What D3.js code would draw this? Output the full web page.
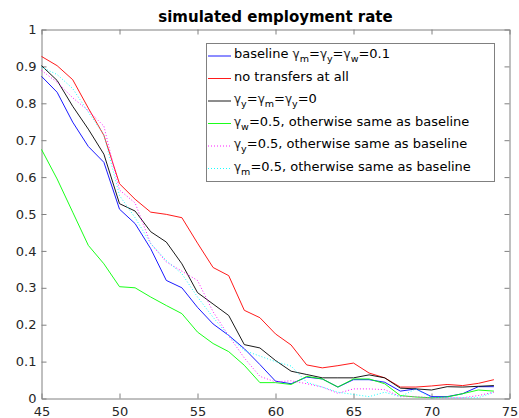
<!DOCTYPE html>
<html><head><meta charset="utf-8">
<script src="https://cdn.jsdelivr.net/npm/d3@7"></script>
<style>body{margin:0;background:#fff;}svg{display:block;font-family:"DejaVu Sans",sans-serif;}</style>
</head><body>
<svg id="chart" width="519" height="418"></svg>
<script>
const ages = d3.range(45, 75);
const baseline = [0.873,0.83,0.749,0.683,0.64,0.513,0.474,0.406,0.32,0.3,0.247,0.202,0.171,0.135,0.092,0.047,0.04,0.058,0.053,0.031,0.051,0.051,0.044,0.02,0.026,0.005,0.005,0.013,0.032,0.032];
const noTransfers = [0.927,0.902,0.864,0.787,0.713,0.582,0.54,0.505,0.499,0.49,0.421,0.355,0.333,0.239,0.219,0.175,0.145,0.091,0.083,0.089,0.096,0.069,0.056,0.031,0.031,0.034,0.038,0.035,0.041,0.051];
const zeroGamma = [0.902,0.862,0.792,0.73,0.662,0.528,0.508,0.452,0.424,0.365,0.287,0.256,0.225,0.146,0.137,0.103,0.074,0.065,0.056,0.056,0.056,0.064,0.056,0.028,0.026,0.023,0.032,0.031,0.033,0.035];
const gammaW = [0.675,0.595,0.505,0.415,0.365,0.303,0.3,0.275,0.252,0.23,0.18,0.149,0.127,0.09,0.043,0.043,0.038,0.06,0.053,0.031,0.053,0.053,0.04,0.008,0.004,0.002,0.004,0.013,0.023,0.02];
const gammaY = [0.889,0.857,0.815,0.78,0.738,0.565,0.53,0.42,0.37,0.345,0.32,0.235,0.17,0.11,0.06,0.045,0.048,0.04,0.031,0.014,0.026,0.026,0.024,0.005,0.005,0.002,0.002,0.002,0.008,0.017];
const gammaM = [0.898,0.878,0.84,0.776,0.715,0.55,0.49,0.42,0.374,0.338,0.275,0.22,0.17,0.13,0.115,0.1,0.088,0.044,0.031,0.017,0.011,0.005,0.017,0.005,0.026,0.002,0.002,0.002,0.002,0.017];
const xTicks = [45,50,55,60,65,70,75];
const yTicks = [0,0.1,0.2,0.3,0.4,0.5,0.6,0.7,0.8,0.9,1];
const title = "simulated employment rate";

const series = [
  {values: baseline, color: "#0000ff", dash: null, label: [["baseline ",""],["γ","m"],["=",""],["γ","y"],["=",""],["γ","w"],["=0.1",""]]},
  {values: noTransfers, color: "#ff0000", dash: null, label: [["no transfers at all",""]]},
  {values: zeroGamma, color: "#000000", dash: null, label: [["γ","y"],["=",""],["γ","m"],["=",""],["γ","y"],["=0",""]]},
  {values: gammaW, color: "#00ff00", dash: null, label: [["γ","w"],["=0.5, otherwise same as baseline",""]]},
  {values: gammaY, color: "#ff00ff", dash: "1,2", label: [["γ","y"],["=0.5, otherwise same as baseline",""]]},
  {values: gammaM, color: "#00ffff", dash: "1,2", label: [["γ","m"],["=0.5, otherwise same as baseline",""]]}
];

const svg = d3.select("#chart");
const L = 41.5, R = 509.5, T = 29.5, B = 398.5;
const x = d3.scaleLinear().domain([45, 75]).range([L, R]);
const y = d3.scaleLinear().domain([0, 1]).range([B, T]);
const axisColor = "#808080", textColor = "#262626";

// axes
const gx = svg.append("g").attr("transform", `translate(0,${B})`)
  .call(d3.axisBottom(x).tickValues(xTicks).tickSizeInner(-5).tickSizeOuter(0).tickPadding(8));
const gy = svg.append("g").attr("transform", `translate(${L},0)`)
  .call(d3.axisLeft(y).tickValues(yTicks).tickFormat(d3.format("~g")).tickSizeInner(-5).tickSizeOuter(0).tickPadding(5));
const gxt = svg.append("g").attr("transform", `translate(0,${T})`)
  .call(d3.axisTop(x).tickValues(xTicks).tickSizeInner(-5).tickSizeOuter(0).tickFormat(""));
const gyr = svg.append("g").attr("transform", `translate(${R},0)`)
  .call(d3.axisRight(y).tickValues(yTicks).tickSizeInner(-5).tickSizeOuter(0).tickFormat(""));
[gx, gy, gxt, gyr].forEach(g => {
  g.select(".domain").attr("stroke", axisColor);
  g.selectAll(".tick line").attr("stroke", axisColor);
  g.selectAll(".tick text").attr("fill", textColor).style("font-size", "13px").style("font-family", "DejaVu Sans");
});

// lines
const line = d3.line().x((d, i) => x(ages[i])).y(d => y(d));
series.forEach(s => {
  svg.append("path").datum(s.values).attr("d", line)
    .attr("fill", "none").attr("stroke", s.color).attr("stroke-width", 0.9)
    .attr("stroke-dasharray", s.dash);
});

// title
svg.append("text").attr("x", (L + R) / 2).attr("y", 22).attr("text-anchor", "middle")
  .style("font-weight", "bold").style("font-size", "15px").attr("fill", "#000").text(title);

// legend
const lg = svg.append("g");
lg.append("rect").attr("x", 206.5).attr("y", 43.5).attr("width", 288).attr("height", 138)
  .attr("fill", "#fff").attr("stroke", axisColor).attr("stroke-width", 1);
series.forEach((s, i) => {
  const cy = 56 + i * 22.5;
  lg.append("line").attr("x1", 208).attr("x2", 231).attr("y1", cy).attr("y2", cy)
    .attr("stroke", s.color).attr("stroke-width", 0.9).attr("stroke-dasharray", s.dash);
  const t = lg.append("text").attr("x", 234).attr("y", cy + 2).style("font-size", "13px").attr("fill", "#000");
  let off = 0;
  s.label.forEach(([main, sub]) => {
    const m = t.append("tspan").attr("dy", -off).text(main);
    off = 0;
    if (main === "γ") m.style("font-size", "12px").attr("fill", "#222");
    if (sub) {
      t.append("tspan").attr("dy", 4).style("font-size", "9.5px").text(sub);
      off = 4;
    }
  });
});
</script>
</body></html>
